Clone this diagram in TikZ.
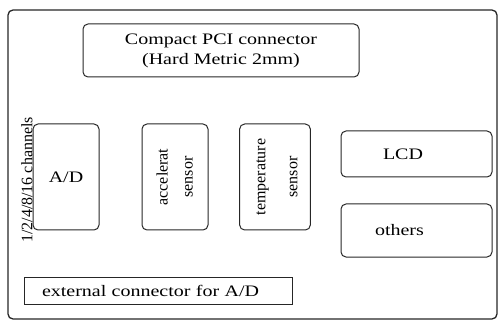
\documentclass[tikz,border=0pt]{standalone}
\usepackage{fontspec}
\setmainfont[FakeStretch=1.25]{Liberation Serif}
\newfontfamily\plainserif{Liberation Serif}
\usetikzlibrary{positioning}
\tikzset{
  card/.style={
	draw=black!85, line width=1.3pt, % outline of the whole board
	rounded corners=5pt,
  },
  part/.style={
	draw=black!85, line width=1pt, % outline of one module
	rounded corners=5pt,
	align=center,
	font=\fontsize{16}{20}\selectfont, % text size of the labels
  },
}

\begin{document}
\begin{tikzpicture}[x=1pt, y=-1pt, node distance=100pt]
	\useasboundingbox (0,0) rectangle (499,321);
	\node[card, minimum width=489pt, minimum height=309pt] (board) at (252.5,164.5) {};

	\node[part, minimum width=276pt, minimum height=53pt] (pci) at (221,50.5) {Compact PCI connector\\(Hard Metric 2mm)};
	\node[part, minimum width=66pt, minimum height=106pt] (ad) at (66,177) {A/D};
	\node[part, minimum width=66pt, minimum height=106pt, right of=ad, xshift=9pt] (acc)
		{\rotatebox{90}{\plainserif\fontsize{16}{25}\selectfont\begin{tabular}{@{}c@{}}accelerat\\sensor\end{tabular}}};
	\node[part, minimum width=68pt, minimum height=106pt, right of=acc] (temp)
		{\rotatebox{90}{\plainserif\fontsize{16}{32}\selectfont\begin{tabular}{@{}c@{}}temperature\\sensor\end{tabular}}};
	\node[part, align=left, inner xsep=42pt, text width=67pt, minimum height=46pt] (lcd) at (416.5,154) {LCD};
	\node[part, align=left, inner xsep=34pt, text width=83pt, minimum height=53pt, below of=lcd, node distance=76.5pt] (others) {others};
	\node[part, sharp corners, align=left, inner xsep=18pt, text width=232pt, minimum height=27pt] (ext) at (158,290.5) {external connector for A/D};

	\node[rotate=90, font=\plainserif\fontsize{16}{20}\selectfont] (chan) at (27,180) {1/2/4/8/16 channels};
\end{tikzpicture}
\end{document}
